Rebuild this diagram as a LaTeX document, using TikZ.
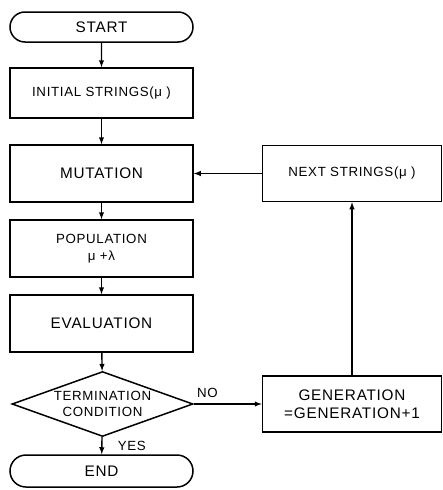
\documentclass[tikz,border=0pt]{standalone}
\usepackage{fontspec}
\setmainfont{Liberation Sans}
\usepackage{tikz}
\usetikzlibrary{arrows,%
                shapes,positioning}

\newcommand\bigtxt{\fontsize{15.3}{18.5}\selectfont\addfontfeatures{LetterSpace=5}}
\newcommand\smalltxt{\fontsize{13.3}{16.5}\selectfont\addfontfeatures{LetterSpace=5}}

\begin{document}
\begin{tikzpicture}[x=1pt,y=-1pt,>=latex,
  box/.style={draw,line width=1.5pt,rectangle,minimum width=183pt,inner sep=0pt,align=center},
  endbox/.style={box,rounded rectangle},
  decision/.style={draw,line width=1.5pt,diamond,aspect=2.8,minimum width=181pt,minimum height=65pt,inner sep=0pt,align=center,font=\smalltxt},
  flow/.style={->,line width=1.4pt}]
\useasboundingbox (0,0) rectangle (443,490);
\node[endbox,minimum height=30pt,font=\bigtxt] (start) at (101.5,27) {START};
\node[box,minimum height=50pt,font=\smalltxt] (init) at (101.5,93) {INITIAL STRINGS(μ )};
\node[box,minimum height=57pt,font=\bigtxt] (mut) at (101.5,173.5) {MUTATION};
\node[box,minimum height=57pt,font=\smalltxt] (pop) at (101.5,248.5) {POPULATION\\μ +λ};
\node[box,minimum height=57pt,font=\bigtxt] (eval) at (101.5,323.5) {EVALUATION};
\node[decision] (term) at (102.5,404) {TERMINATION\\CONDITION};
\node[endbox,minimum height=32pt,font=\bigtxt] (end) at (101.5,471) {END};
\node[box,minimum width=179pt,minimum height=56pt,font=\smalltxt] (next) at (352,173.5) {NEXT STRINGS(μ )};
\node[box,minimum width=179pt,minimum height=56pt,font=\bigtxt] (gen) at (352,404) {GENERATION\\=GENERATION+1};
\draw[flow] (start) -- (init);
\draw[flow] (init) -- (mut);
\draw[flow] (mut) -- (pop);
\draw[flow] (pop) -- (eval);
\draw[flow] (eval) -- (term);
\draw[flow] (term) -- (end) node[midway,right,xshift=12pt,font=\smalltxt] (yes) {YES};
\draw[flow] (term) -- (gen) node[pos=0.2,above,yshift=2pt,font=\smalltxt] (no) {NO};
\draw[flow] (gen) -- (next);
\draw[flow] (next) -- (mut);
\end{tikzpicture}
\end{document}
